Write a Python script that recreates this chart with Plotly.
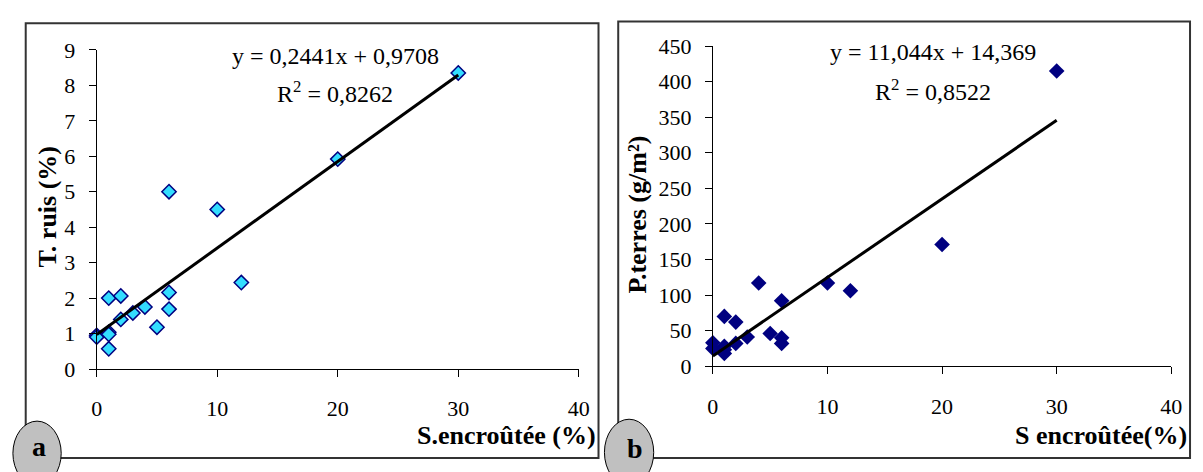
import plotly.graph_objects as go

# ---------------- data ----------------
# Panel a : S.encroûtée (%) vs T. ruis (%)
xa = [0, 0, 1, 1, 1, 1, 2, 2, 3, 4, 5, 6, 6, 6, 10, 12, 20, 30]
ya = [0.95, 0.9, 2.0, 1.04, 0.98, 0.57, 2.06, 1.4, 1.58, 1.75, 1.18, 5.0, 2.16, 1.69, 4.5, 2.44, 5.92, 8.35]
slope_a, inter_a = 0.2441, 0.9708
eq_a = "y = 0,2441x + 0,9708"
r2_a = "R<sup>2</sup> = 0,8262"

# Panel b : S encroûtée (%) vs P.terres (g/m²)
xb = [0, 0, 1, 1, 1, 1, 2, 2, 3, 4, 5, 6, 6, 6, 10, 12, 20, 30]
yb = [33, 25, 70, 28, 23, 18, 62, 32, 41, 117, 46, 92, 40, 32, 117, 106, 171, 415]
slope_b, inter_b = 11.044, 14.369
eq_b = "y = 11,044x + 14,369"
r2_b = "R<sup>2</sup> = 0,8522"

fit_x = [0, 30]
x_ticks = [0, 10, 20, 30, 40]
ya_ticks = list(range(0, 10))
yb_ticks = list(range(0, 451, 50))

# ---------------- layout helpers ----------------
W, H = 1203, 472
def px(x):
    return x / W
def py(y):
    return 1 - y / H

FONT = "Liberation Serif"

fig = go.Figure()

fig.add_trace(go.Scatter(
    x=xa, y=ya, mode="markers", cliponaxis=False,
    marker=dict(symbol="diamond", size=11, color="#33DDFF",
                line=dict(color="#000080", width=1.5)),
    xaxis="x", yaxis="y", showlegend=False))
fig.add_trace(go.Scatter(
    x=fit_x, y=[slope_a * v + inter_a for v in fit_x], mode="lines",
    line=dict(color="black", width=3), cliponaxis=False,
    xaxis="x", yaxis="y", showlegend=False))

fig.add_trace(go.Scatter(
    x=xb, y=yb, mode="markers", cliponaxis=False,
    marker=dict(symbol="diamond", size=12, color="#000080",
                line=dict(color="#000080", width=0)),
    xaxis="x2", yaxis="y2", showlegend=False))
fig.add_trace(go.Scatter(
    x=fit_x, y=[slope_b * v + inter_b for v in fit_x], mode="lines",
    line=dict(color="black", width=3), cliponaxis=False,
    xaxis="x2", yaxis="y2", showlegend=False))

axis_common = dict(showline=True, linecolor="black", linewidth=1,
                   ticks="outside", ticklen=7, tickcolor="black", tickwidth=1,
                   showgrid=False, zeroline=False,
                   tickfont=dict(family=FONT, size=22, color="black"))

fig.update_layout(
    width=W, height=H, autosize=False,
    margin=dict(l=0, r=0, t=0, b=0),
    paper_bgcolor="white", plot_bgcolor="white",
    font=dict(family=FONT, color="black"),
    xaxis=dict(domain=[px(92), px(581)], range=[0, 40], tickvals=x_ticks,
               anchor="y", ticklabelstandoff=13, **axis_common),
    yaxis=dict(domain=[py(377), py(40)], range=[0, 9], tickvals=ya_ticks,
               anchor="x", ticklabelstandoff=9, **axis_common),
    xaxis2=dict(domain=[px(717), px(1182)], range=[0, 40], tickvals=x_ticks,
                anchor="y2", ticklabelstandoff=13, **axis_common),
    yaxis2=dict(domain=[py(374), py(36)], range=[0, 450], tickvals=yb_ticks,
                anchor="x2", ticklabelstandoff=9, **axis_common),
)

ann = []
def add_text(text, x, y, size, xanchor="center", angle=0):
    ann.append(dict(text=text, x=px(x), y=py(y), xref="paper", yref="paper",
                    xanchor=xanchor, yanchor="middle", showarrow=False,
                    textangle=angle, font=dict(family=FONT, size=size, color="black")))

add_text(eq_a, 334, 46, 24)
add_text(r2_a, 334, 84, 24)
add_text(eq_b, 940, 42, 24)
add_text(r2_b, 940, 82, 24)
add_text("<b>T. ruis (%)</b>", 42, 205, 26, angle=-90)
add_text("<b>P.terres (g/m²)</b>", 641, 214, 26, angle=-90)
add_text("<b>S.encroûtée (%)</b>", 600, 447, 26, xanchor="right")
add_text("<b>S encroûtée(%)</b>", 1200, 447, 26, xanchor="right")

shapes = [
    dict(type="rect", xref="paper", yref="paper", x0=px(20), x1=px(601),
         y0=py(471), y1=py(12), line=dict(color="#333333", width=2), layer="below"),
    dict(type="rect", xref="paper", yref="paper", x0=px(621), x1=px(1201),
         y0=py(471), y1=py(10), line=dict(color="#333333", width=2), layer="below"),
    dict(type="circle", xref="paper", yref="paper", x0=px(7), x1=px(56),
         y0=py(500), y1=py(432), fillcolor="#C0C0C0", line=dict(color="black", width=1), layer="above"),
    dict(type="circle", xref="paper", yref="paper", x0=px(607), x1=px(657),
         y0=py(500), y1=py(430), fillcolor="#C0C0C0", line=dict(color="black", width=1), layer="above"),
]
fig.update_layout(shapes=shapes)

add_text("<b>a</b>", 33, 459, 28)
add_text("<b>b</b>", 638, 461, 28)
fig.update_layout(annotations=ann)

fig.write_html("out.html", config={"responsive": False, "displayModeBar": False},
               post_script="document.body.style.margin='0';document.body.style.overflow='hidden';")
